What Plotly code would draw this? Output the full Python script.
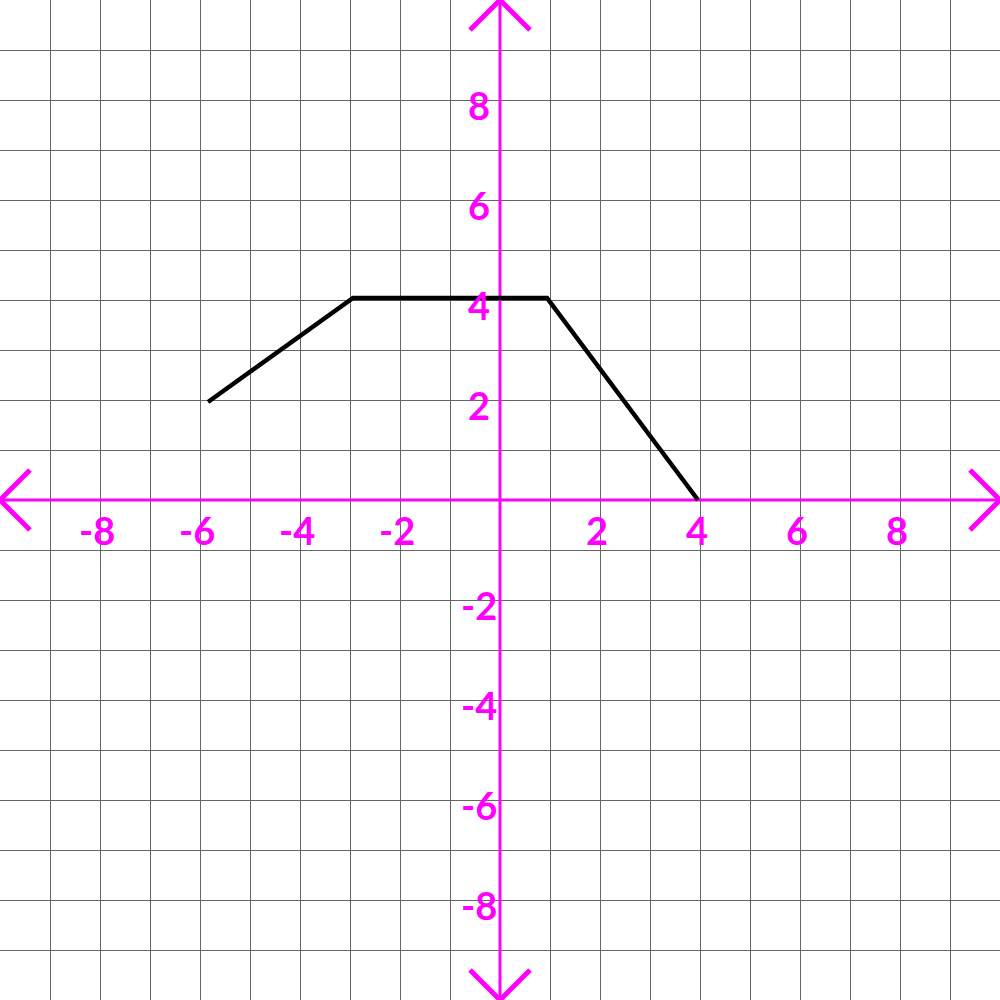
import plotly.graph_objects as go

# data
line_x = [-5.84, -2.94, 0.94, 3.96]
line_y = [1.96, 4.04, 4.04, 0.0]
x_ticks = [-8, -6, -4, -2, 2, 4, 6, 8]
y_ticks = [8, 6, 4, 2, -2, -4, -6, -8]
axis_min, axis_max = -10, 10

MAG = "#ff00ff"
fig = go.Figure()

# axes
fig.add_trace(go.Scatter(x=[axis_min, axis_max], y=[0, 0], mode="lines",
                         line=dict(color=MAG, width=3), cliponaxis=False, hoverinfo="skip"))
fig.add_trace(go.Scatter(x=[0, 0], y=[axis_min, axis_max], mode="lines",
                         line=dict(color=MAG, width=3), cliponaxis=False, hoverinfo="skip"))
# arrowheads
a = 0.6
for xs, ys in [
    ([axis_max - a, axis_max, axis_max - a], [a, 0, -a]),
    ([axis_min + a, axis_min, axis_min + a], [a, 0, -a]),
    ([-a, 0, a], [axis_max - a, axis_max, axis_max - a]),
    ([-a, 0, a], [axis_min + a, axis_min, axis_min + a]),
]:
    fig.add_trace(go.Scatter(x=xs, y=ys, mode="lines",
                             line=dict(color=MAG, width=5), cliponaxis=False, hoverinfo="skip"))

# function line
fig.add_trace(go.Scatter(x=line_x, y=line_y, mode="lines",
                         line=dict(color="black", width=4.5), hoverinfo="skip"))

font = dict(family="Lato", size=38, color=MAG)
ann = []
for t in x_ticks:
    ann.append(dict(x=t - 0.06, y=-0.6, text=f"<b>{t}</b>", showarrow=False,
                    xanchor="center", yanchor="middle", font=font))
for t in y_ticks:
    ann.append(dict(x=-0.42, y=t - 0.09, text=f"<b>{t}</b>", showarrow=False,
                    xanchor="center", yanchor="middle", font=font))

grid = dict(range=[axis_min, axis_max], dtick=1, tick0=0, showgrid=True,
            gridcolor="#666666", gridwidth=1, zeroline=False, showticklabels=False,
            showline=False, ticks="", fixedrange=True)
fig.update_layout(width=1000, height=1000, margin=dict(l=0, r=0, t=0, b=0),
                  plot_bgcolor="white", paper_bgcolor="white", showlegend=False,
                  xaxis=grid, yaxis=grid, annotations=ann)
fig.write_html("out.html", config={"displayModeBar": False},
               post_script="document.body.style.margin='0';document.body.style.overflow='hidden';")
